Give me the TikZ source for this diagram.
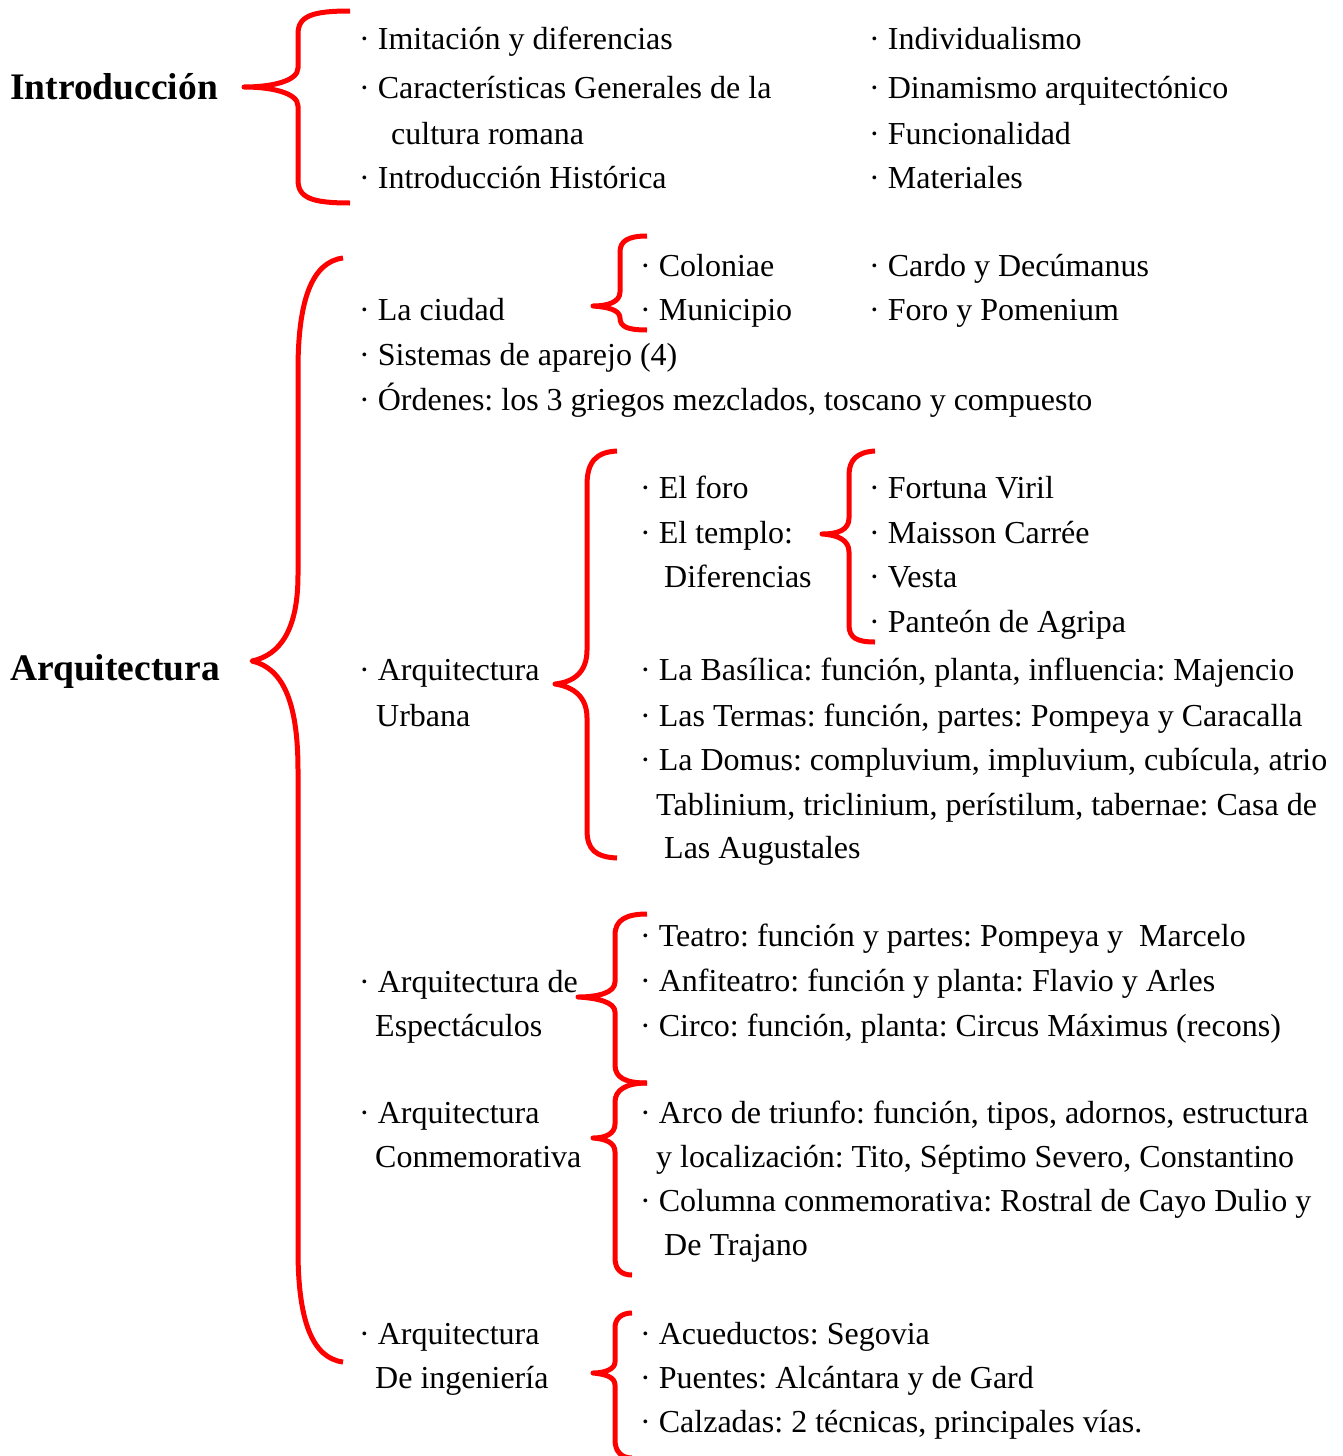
\documentclass[tikz,border=0pt]{standalone}
\usepackage{fontspec}
\setmainfont{Liberation Serif}
\usepackage{xcolor}
\usepackage{tikz}
\usetikzlibrary{positioning,calc}
\frenchspacing

\begin{document}
\begin{tikzpicture}[x=1pt,y=-1pt,
    item/.style={anchor=base west, inner sep=0pt, font=\fontsize{32}{38}\selectfont},
    head/.style={anchor=base west, inner sep=0pt, font=\fontsize{37.5}{44}\selectfont\bfseries},
    llave/.style={draw=red, line width=5pt, line join=round}]
    \useasboundingbox (0,0) rectangle (1343,1456);

    % Headings
    \node[head] (intro) at (10,99) {Introducción};
    \node[head] (arq) at (10,680) {Arquitectura};

    % Braces
    \draw[llave] (350,11) .. controls (312,11) and (298,16) .. (298,34) -- (298,68) .. controls (298,81) and (272,87) .. (244,87) .. controls (272,87) and (298,93) .. (298,106) -- (298,180) .. controls (298,198) and (312,203) .. (350,203);
    \draw[llave] (343,258) .. controls (312,262) and (298,300) .. (298,370) -- (298,575) .. controls (298,630) and (280,655) .. (252,661) .. controls (282,668) and (298,700) .. (298,770) -- (298,1250) .. controls (298,1320) and (312,1358) .. (343,1362);
    \draw[llave] (647,236) .. controls (628,236) and (620,241) .. (620,252) -- (620,292) .. controls (620,302) and (608,306) .. (593,306) .. controls (608,307) and (620,310) .. (620,318) .. controls (620,327) and (628,330) .. (647,330);
    \draw[llave] (617,451) .. controls (596,452) and (587,462) .. (587,485) -- (587,650) .. controls (587,672) and (574,682) .. (555,684) .. controls (574,687) and (587,697) .. (587,718) -- (587,830) .. controls (587,850) and (596,857) .. (617,858);
    \draw[llave] (875,451) .. controls (857,452) and (849,460) .. (849,475) -- (849,518) .. controls (849,530) and (838,534) .. (822,534) .. controls (838,535) and (849,540) .. (849,552) -- (849,625) .. controls (849,638) and (857,642) .. (875,642);
    \draw[llave] (647,914) .. controls (626,914) and (615,920) .. (615,935) -- (615,982) .. controls (615,993) and (597,997) .. (578,997) .. controls (597,998) and (615,1002) .. (615,1012) -- (615,1065) .. controls (615,1078) and (626,1083) .. (647,1083);
    \draw[llave] (647,1083) .. controls (626,1083) and (615,1090) .. (615,1102) -- (615,1124) .. controls (615,1134) and (605,1138) .. (593,1138) .. controls (605,1139) and (615,1142) .. (615,1152) -- (615,1258) .. controls (615,1270) and (622,1275) .. (632,1275);
    \draw[llave] (632,1313) .. controls (622,1313) and (615,1318) .. (615,1328) -- (615,1362) .. controls (615,1369) and (605,1373) .. (593,1373) .. controls (605,1374) and (615,1377) .. (615,1385) -- (615,1440) .. controls (615,1452) and (622,1458) .. (632,1458);

    % Introduccion
    \foreach \y/\txt [count=\i] in {49/Imitación y diferencias, 98/Características Generales de la, 188/Introducción Histórica}
        \node[item] (introL\i) at (359,\y) {· \txt};
    \node[item] (introL4) at (391,144) {cultura romana};
    \foreach \y/\txt [count=\i] in {49/Individualismo, 98/Dinamismo arquitectónico, 144/Funcionalidad, 188/Materiales}
        \node[item] (introR\i) at (869,\y) {· \txt};

    % La ciudad, aparejo, ordenes
    \node[item] (ciudad) at (359,320) {· La ciudad};
    \node[item] (aparejo) at (359,365) {· Sistemas de aparejo (4)};
    \node[item] (ordenes) at (359,410) {· Órdenes: los 3 griegos mezclados, toscano y compuesto};
    \foreach \y/\txt [count=\i] in {276/Coloniae, 320/Municipio}
        \node[item] (ciudadA\i) at (640,\y) {· \txt};
    \foreach \y/\txt [count=\i] in {276/Cardo y Decúmanus, 320/Foro y Pomenium}
        \node[item] (ciudadB\i) at (869,\y) {· \txt};

    % Urbana
    \node[item] (urbana) at (359,680) {· Arquitectura};
    \node[item] (urbana2) at (376,726) {Urbana};
    \foreach \y/\txt [count=\i] in {498/El foro, 543/El templo:}
        \node[item] (urbA\i) at (640,\y) {· \txt};
    \node[item] (urbA3) at (664,587) {Diferencias};
    \foreach \y/\txt [count=\i] in {498/Fortuna Viril, 543/Maisson Carrée, 587/Vesta, 632/Panteón de Agripa}
        \node[item] (templo\i) at (869,\y) {· \txt};
    \foreach \y/\txt [count=\i] in {680/{La Basílica: función, planta, influencia: Majencio}, 726/{Las Termas: función, partes: Pompeya y Caracalla}, 770/{La Domus: compluvium, impluvium, cubícula, atrio}}
        \node[item] (urbB\i) at (640,\y) {· \txt};
    \node[item] (urbB4) at (656,815) {Tablinium, triclinium, perístilum, tabernae: Casa de};
    \node[item] (urbB5) at (664,858) {Las Augustales};

    % Espectaculos
    \node[item] (espec) at (359,992) {· Arquitectura de};
    \node[item] (espec2) at (375,1036) {Espectáculos};
    \foreach \y/\txt [count=\i] in {946/{Teatro: función y partes: Pompeya y~ Marcelo}, 991/{Anfiteatro: función y planta: Flavio y Arles}, 1036/{Circo: función, planta: Circus Máximus (recons)}}
        \node[item] (especA\i) at (640,\y) {· \txt};

    % Conmemorativa
    \node[item] (conm) at (359,1123) {· Arquitectura};
    \node[item] (conm2) at (375,1167) {Conmemorativa};
    \node[item] (conmA1) at (640,1123) {· Arco de triunfo: función, tipos, adornos, estructura};
    \node[item] (conmA2) at (656,1167) {y localización: Tito, Séptimo Severo, Constantino};
    \node[item] (conmA3) at (640,1211) {· Columna conmemorativa: Rostral de Cayo Dulio y};
    \node[item] (conmA4) at (664,1255) {De Trajano};

    % Ingenieria
    \node[item] (inge) at (359,1344) {· Arquitectura};
    \node[item] (inge2) at (375,1388) {De ingeniería};
    \foreach \y/\txt [count=\i] in {1344/Acueductos: Segovia, 1388/Puentes: Alcántara y de Gard, 1432/{Calzadas: 2 técnicas, principales vías.}}
        \node[item] (ingeA\i) at (640,\y) {· \txt};
\end{tikzpicture}
\end{document}
